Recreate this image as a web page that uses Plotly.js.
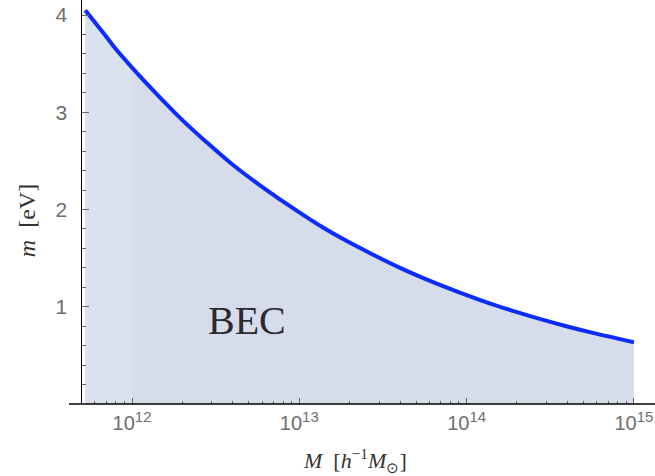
<!DOCTYPE html>
<html>
<head>
<meta charset="utf-8">
<script src="https://cdn.plot.ly/plotly-3.0.1.min.js"></script>
<style>html,body{margin:0;padding:0;background:#fff;}</style>
</head>
<body>
<div id="chart" style="width:655px;height:476px;"></div>
<script>
// Halo mass M [h^-1 M_sun] and boson mass m [eV]
var haloMass = [5.25e11, 5.6e11, 7e11, 8e11,
                1e12, 1.4e12, 2e12, 2.8e12, 4e12, 5.6e12,
                1e13, 1.4e13, 2e13, 2.8e13, 4e13, 5.6e13,
                1e14, 1.4e14, 2e14, 2.8e14, 4e14, 5.6e14,
                1e15];
var bosonMass = [4.05, 3.99, 3.78, 3.65,
                 3.46, 3.19, 2.92, 2.69, 2.46, 2.27,
                 1.97, 1.81, 1.66, 1.53, 1.40, 1.29,
                 1.12, 1.03, 0.945, 0.870, 0.797, 0.734,
                 0.635];
var splitMass = 1e12;
var xTickVals = [1e12, 1e13, 1e14, 1e15];
var xTickExp = ['12', '13', '14', '15'];
var yTickVals = [1, 2, 3, 4];
var regionLabel = 'BEC';

var leftX = [], leftY = [], rightX = [], rightY = [];
for (var i = 0; i < haloMass.length; i++) {
  if (haloMass[i] <= splitMass) { leftX.push(haloMass[i]); leftY.push(bosonMass[i]); }
  if (haloMass[i] >= splitMass) { rightX.push(haloMass[i]); rightY.push(bosonMass[i]); }
}
var xTickText = xTickExp.map(function (s) { return '10<sup><span style="font-size:15px">' + s + '</span></sup>'; });
var minorX = [];
for (var e = 11; e <= 15; e++) {
  for (var d = 2; d <= 9; d++) { minorX.push(d * Math.pow(10, e)); }
}

var traces = [
  {x: leftX, y: leftY, mode: 'lines', fill: 'tozeroy', fillcolor: 'rgb(218,227,237)',
   line: {width: 0, shape: 'spline'}, hoverinfo: 'skip', showlegend: false},
  {x: rightX, y: rightY, mode: 'lines', fill: 'tozeroy', fillcolor: 'rgb(214,220,236)',
   line: {width: 0, shape: 'spline'}, hoverinfo: 'skip', showlegend: false},
  {x: haloMass, y: bosonMass, mode: 'lines',
   line: {width: 4, color: '#0b2bff', shape: 'spline'}, showlegend: false}
];

var sans = 'Liberation Sans, Arial, sans-serif';
var serif = 'Liberation Serif, Times New Roman, serif';

var layout = {
  width: 655, height: 476,
  margin: {l: 82, r: 0, t: 0, b: 72, pad: 0},
  paper_bgcolor: '#fff', plot_bgcolor: '#fff',
  showlegend: false,
  xaxis: {
    type: 'log', range: [11.701, 15.126],
    showline: false, showgrid: false, zeroline: false,
    tickmode: 'array', tickvals: xTickVals, ticktext: xTickText,
    ticks: 'inside', ticklen: 6, tickwidth: 1, tickcolor: '#666',
    tickfont: {family: sans, size: 20, color: '#6e6e6e'}, ticklabelstandoff: 5,
    minor: {tickmode: 'array', tickvals: minorX, ticks: 'inside', ticklen: 3, tickwidth: 1, tickcolor: '#666', showgrid: false}
  },
  yaxis: {
    range: [0, 4.155],
    showline: true, linecolor: '#000', linewidth: 1.5,
    showgrid: false, zeroline: false,
    tickmode: 'array', tickvals: yTickVals,
    ticks: 'inside', ticklen: 7, tickwidth: 1, tickcolor: '#666',
    tickfont: {family: sans, size: 21, color: '#6e6e6e'}, ticklabelstandoff: 9,
    minor: {tickmode: 'linear', tick0: 0, dtick: 0.2, ticks: 'inside', ticklen: 4, tickwidth: 1, tickcolor: '#666', showgrid: false}
  },
  shapes: [
    {type: 'line', xref: 'paper', yref: 'paper', x0: -0.0227, x1: 1, y0: 0, y1: 0,
     line: {color: '#000', width: 1.5}, layer: 'above'}
  ],
  annotations: [
    {text: regionLabel, xref: 'paper', yref: 'paper', x: 0.2880, y: 0.2079,
     showarrow: false, xanchor: 'center', yanchor: 'middle',
     font: {family: serif, size: 40, color: '#2b2b2b'}},
    {text: '<i>M</i>\u00a0\u00a0[<i>h</i><sup>\u22121</sup><i>M</i><sub>\u2299</sub>]',
     xref: 'paper', yref: 'paper', x: 0.4764, y: -0.139,
     showarrow: false, xanchor: 'center', yanchor: 'middle',
     font: {family: serif, size: 22, color: '#333'}},
    {text: '<i>m</i>\u00a0\u00a0[eV]', textangle: -90,
     xref: 'paper', yref: 'paper', x: -0.096, y: 0.455,
     showarrow: false, xanchor: 'center', yanchor: 'middle',
     font: {family: serif, size: 24, color: '#333'}}
  ]
};

Plotly.newPlot('chart', traces, layout, {staticPlot: true, displayModeBar: false});
</script>
</body>
</html>
